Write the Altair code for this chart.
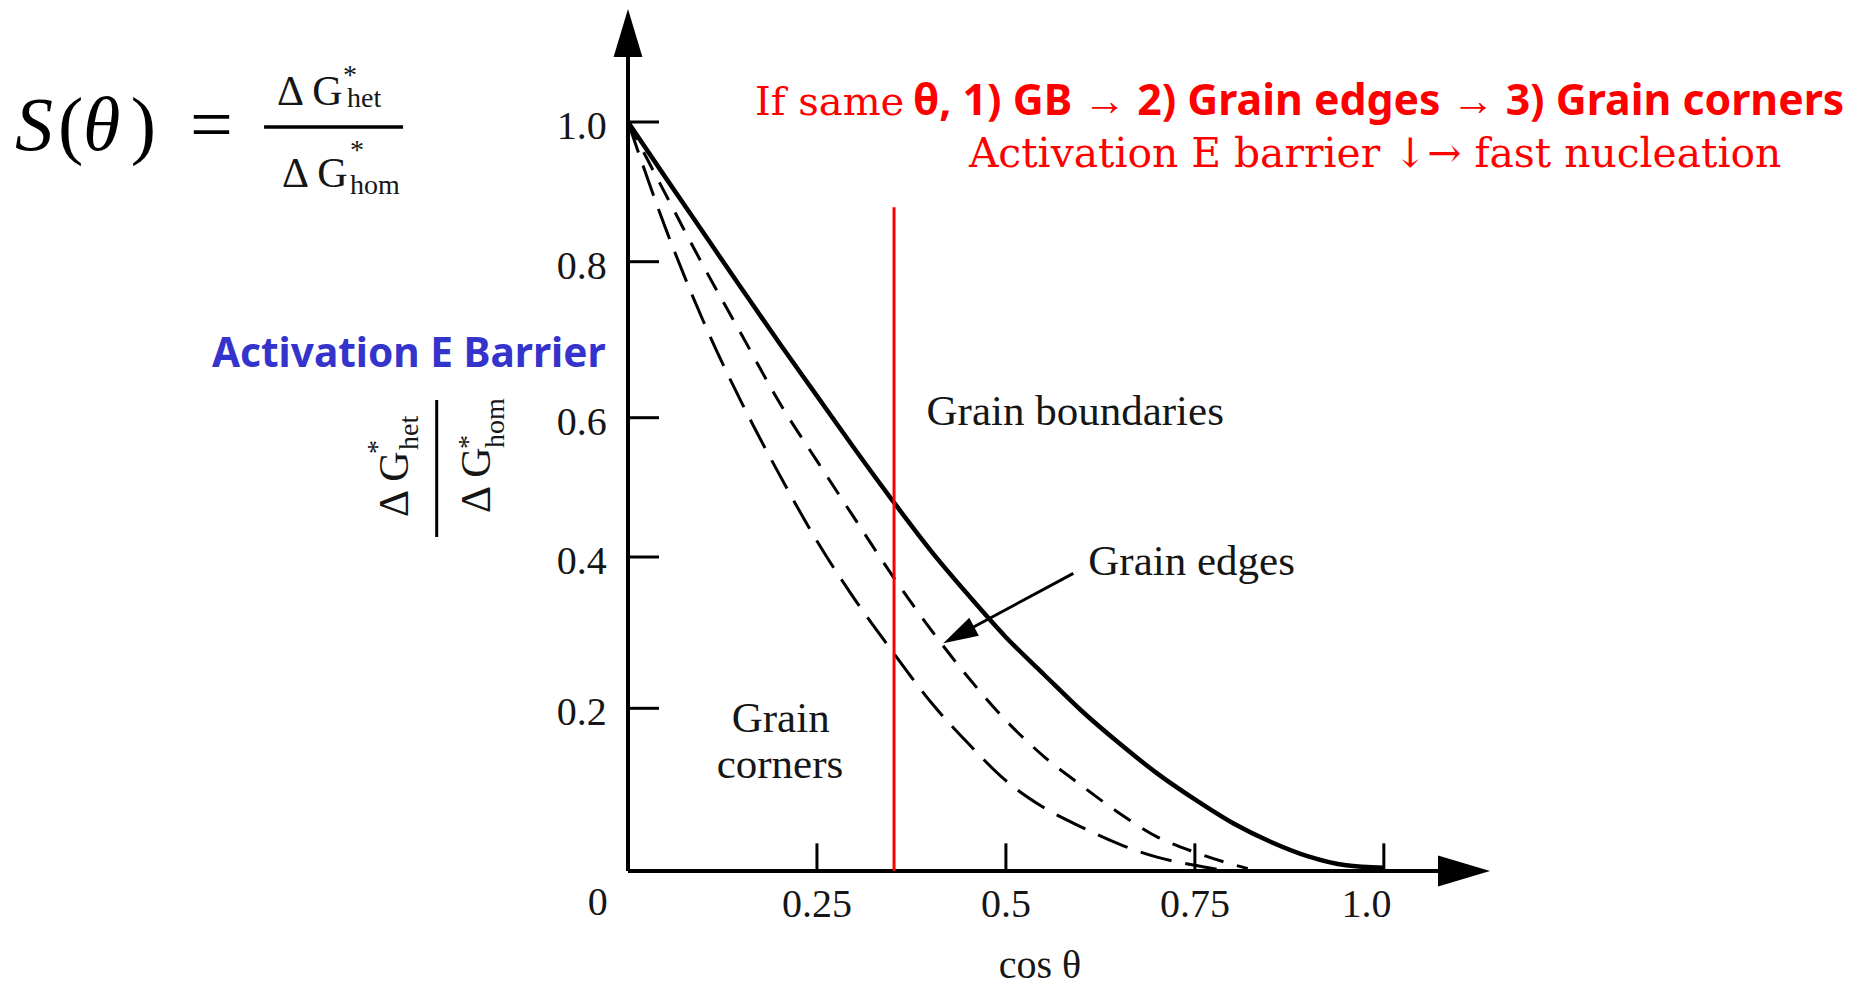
import altair as alt
import pandas as pd

# ---------------- values ----------------
cos_theta = [0.00, 0.05, 0.10, 0.15, 0.20, 0.25, 0.30, 0.35, 0.40, 0.45, 0.50,
             0.55, 0.60, 0.65, 0.70, 0.75, 0.80, 0.85, 0.90, 0.95, 1.00]
grain_boundaries = [1.000, 0.920, 0.841, 0.766, 0.696, 0.628, 0.555, 0.481, 0.410, 0.350,
                    0.294, 0.245, 0.197, 0.157, 0.120, 0.088, 0.059, 0.036, 0.018, 0.007, 0.004]

edges_cos = [0.00, 0.05, 0.10, 0.15, 0.20, 0.25, 0.30, 0.35, 0.40, 0.45, 0.50,
             0.55, 0.60, 0.65, 0.70, 0.75, 0.80, 0.82]
grain_edges = [1.000, 0.896, 0.794, 0.707, 0.620, 0.538, 0.455, 0.375, 0.305, 0.241,
               0.185, 0.141, 0.105, 0.071, 0.042, 0.023, 0.008, 0.003]

corners_cos = [0.00, 0.05, 0.10, 0.15, 0.20, 0.25, 0.30, 0.35, 0.40, 0.45, 0.50,
               0.55, 0.60, 0.65, 0.70, 0.75, 0.78]
grain_corners = [1.000, 0.847, 0.723, 0.620, 0.519, 0.423, 0.344, 0.275, 0.209, 0.157,
                 0.111, 0.078, 0.054, 0.033, 0.017, 0.007, 0.002]

x_ticks = [0.25, 0.5, 0.75, 1.0]
x_tick_labels = ["0.25", "0.5", "0.75", "1.0"]
y_ticks = [0.2, 0.4, 0.6, 0.8, 1.0]
y_tick_labels = ["0.2", "0.4", "0.6", "0.8", "1.0"]

marker_cos = 0.352     # red vertical line position (cos theta)
marker_top = 0.878     # red line top (S value)

# ---------------- layout ----------------
W, H = 907, 861
XS = alt.Scale(domain=[0, 1.2], nice=False, zero=False)
# the printed figure's value axis is not evenly spaced: piecewise scale through its ticks
YP = alt.Scale(domain=[0, 0.2, 0.4, 0.6, 0.8, 1.0, 1.16],
               range=[861, 698.3, 547, 407.7, 251.7, 112, 0], nice=False, zero=False)
# plain scale for placing annotations on the page
YS = alt.Scale(domain=[0, 1.15], nice=False, zero=False)
SERIF = "Liberation Serif"
INK = "#161616"
RED = "#ff0000"
BLUE = "#3434cc"


def ex(f="x"):
    return alt.X(f"{f}:Q", scale=XS, axis=None)


def ey(f="y", pw=False):
    return alt.Y(f"{f}:Q", scale=YP if pw else YS, axis=None)


def curve(xv, yv, **props):
    df = pd.DataFrame({"x": xv, "y": yv})
    return alt.Chart(df).mark_line(interpolate="monotone", color="black", **props).encode(
        x=ex(), y=ey(pw=True))


def rules(rows, pw=False, **props):
    df = pd.DataFrame(rows, columns=["x", "y", "x2", "y2"])
    return alt.Chart(df).mark_rule(**props).encode(
        x=ex(), y=ey(pw=pw), x2=alt.X2("x2:Q"), y2=alt.Y2("y2:Q"))


def texts(rows, pw=False, **props):
    df = pd.DataFrame(rows, columns=["t", "x", "y"])
    return alt.Chart(df).mark_text(**props).encode(x=ex(), y=ey(pw=pw), text="t:N")


def arrowhead(x, y, path, size, angle=0):
    df = pd.DataFrame({"x": [x], "y": [y]})
    return alt.Chart(df).mark_point(shape=path, size=size, filled=True, color="black",
                                    opacity=1, strokeWidth=0, angle=angle).encode(x=ex(), y=ey())


layers = []

# curves
layers.append(curve(cos_theta, grain_boundaries, strokeWidth=4.5))
layers.append(curve(edges_cos, grain_edges, strokeWidth=3, strokeDash=[20, 14]))
layers.append(curve(corners_cos, grain_corners, strokeWidth=3, strokeDash=[32, 14]))

# axes with arrows
layers.append(rules([[0, 0, 0, 1.09], [0, 0, 1.072, 0]], color="black", strokeWidth=4))
layers.append(arrowhead(0, 1.1193, "M -0.6 1 L 0 -1 L 0.6 1 Z", 48 * 48))
layers.append(arrowhead(1.1061, 0, "M -1 -0.6 L 1 0 L -1 0.6 Z", 52 * 52))

# ticks (pointing into the plot)
layers.append(rules([[0, v, 0.041, v] for v in y_ticks], pw=True, color="black", strokeWidth=3))
layers.append(rules([[v, 0, v, 0.034] for v in x_ticks], pw=True, color="black", strokeWidth=3))

# tick labels
layers.append(texts([[t, -0.028, v] for t, v in zip(y_tick_labels, y_ticks)], pw=True,
                    font=SERIF, fontSize=40, color=INK, align="right", baseline="middle", dy=5))
x_label_pos = [0.25, 0.5, 0.75, 0.977]
layers.append(texts([[t, p, -0.061] for t, p in zip(x_tick_labels, x_label_pos)],
                    font=SERIF, fontSize=40, color=INK, align="center", baseline="alphabetic"))
layers.append(texts([["0", -0.04, -0.059]], font=SERIF, fontSize=40, color=INK,
                    align="center", baseline="alphabetic"))
layers.append(texts([["cos θ", 0.545, -0.143]], font=SERIF, fontSize=40, color=INK,
                    align="center", baseline="alphabetic"))

# red marker line
layers.append(rules([[marker_cos, 0, marker_cos, marker_top]], pw=True, color=RED, strokeWidth=3))

# curve labels
layers.append(texts([["Grain boundaries", 0.395, 0.596], ["Grain edges", 0.609, 0.395]],
                    font=SERIF, fontSize=43, color=INK, align="left", baseline="alphabetic"))
layers.append(texts([["Grain", 0.202, 0.186], ["corners", 0.201, 0.124]],
                    font=SERIF, fontSize=43, color=INK, align="center", baseline="alphabetic"))

# arrow pointing to grain edges curve
layers.append(rules([[0.5892, 0.3976, 0.4375, 0.3152]], color="black", strokeWidth=3))
layers.append(arrowhead(0.4375, 0.3152, "M 0 -1 L 0.58 1 L -0.58 1 Z", 35 * 35, angle=241.7))

# red explanation text
layers.append(texts([["If same", 0.168, 1.0098]], font="DejaVu Serif", fontSize=40,
                    color=RED, align="left", baseline="alphabetic"))
layers.append(texts([["θ, 1) GB → 2) Grain edges → 3) Grain corners", 0.377, 1.0098]],
                    font="Noto Sans", fontWeight="bold", fontSize=42.8, color=RED,
                    align="left", baseline="alphabetic"))
layers.append(texts([["Activation E barrier ↓→ fast nucleation", 0.451, 0.9407]],
                    font="DejaVu Serif", fontSize=40.8, color=RED, align="left",
                    baseline="alphabetic"))

# blue label
layers.append(texts([["Activation E Barrier", -0.5504, 0.6736]], font="Noto Sans",
                    fontWeight="bold", fontSize=40.6, color=BLUE, align="left",
                    baseline="alphabetic"))

# formula S(theta) = dG_het / dG_hom
layers.append(texts([["S", -0.811, 0.963], ["θ", -0.721, 0.963]], font=SERIF, fontSize=76,
                    fontStyle="italic", color="black", align="left", baseline="alphabetic"))
layers.append(texts([["(", -0.754, 0.963], [")", -0.658, 0.963], ["=", -0.5795, 0.963]],
                    font=SERIF, fontSize=76, color="black", align="left", baseline="alphabetic"))
layers.append(rules([[-0.4815, 0.9937, -0.2976, 0.9937]], color="black", strokeWidth=3.5))
layers.append(texts([["Δ G", -0.4644, 1.0231], ["Δ G", -0.4578, 0.9136]], font=SERIF,
                    fontSize=42, color=INK, align="left", baseline="alphabetic"))
layers.append(texts([["het", -0.3718, 1.0205], ["hom", -0.3678, 0.9042]], font=SERIF,
                    fontSize=28, color=INK, align="left", baseline="alphabetic"))
layers.append(texts([["*", -0.3678, 1.0512], ["*", -0.3585, 0.951]], font=SERIF,
                    fontSize=28, color=INK, align="center", baseline="alphabetic"))

# rotated y-axis title (fraction)
layers.append(texts([["Δ G", -0.2911, 0.4728], ["Δ G", -0.1826, 0.4782]], font=SERIF,
                    fontSize=42, color=INK, align="left", baseline="alphabetic", angle=270))
layers.append(texts([["het", -0.2778, 0.5623], ["hom", -0.1641, 0.565]], font=SERIF,
                    fontSize=28, color=INK, align="left", baseline="alphabetic", angle=270))
layers.append(texts([["*", -0.3202, 0.5663], ["*", -0.1998, 0.573]], font=SERIF,
                    fontSize=28, color=INK, align="center", baseline="alphabetic", angle=270))
layers.append(rules([[-0.2531, 0.4461, -0.2531, 0.6291]], color="black", strokeWidth=3))

chart = alt.layer(*layers).resolve_scale(y="independent").properties(
    width=W, height=H,
    autosize=alt.AutoSizeParams(type="none"),
    padding={"left": 620, "top": 2, "right": 325, "bottom": 115},
    background="white",
).configure_view(stroke=None)

chart.save("out.html", embed_options={"renderer": "svg", "actions": False})
